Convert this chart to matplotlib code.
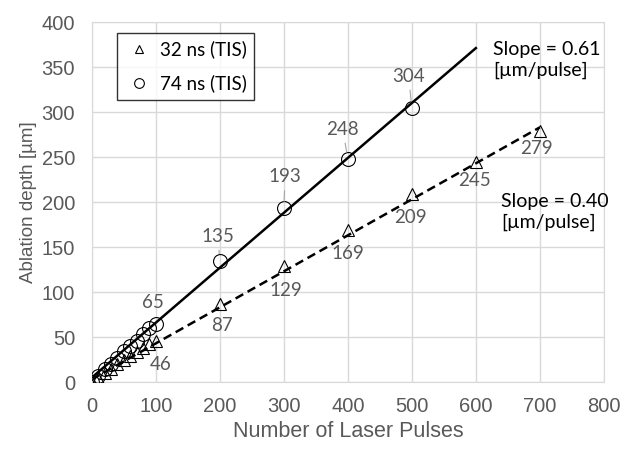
import numpy as np
import matplotlib
matplotlib.use("Agg")
import matplotlib.pyplot as plt

# %% Datos
pulsos_cortos = [0, 10, 20, 30, 40, 50, 60, 70, 80, 90, 100, 200, 300, 400, 500, 600, 700]
prof_32ns = [0, 5, 10, 15, 20, 24, 29, 33, 38, 42, 46, 87, 129, 169, 209, 245, 279]

pulsos_largos = [0, 10, 20, 30, 40, 50, 60, 70, 80, 90, 100, 200, 300, 400, 500]
prof_74ns = [0, 7, 14, 20, 27, 34, 40, 46, 53, 60, 65, 135, 193, 248, 304]

# valores etiquetados: (x, y, etiqueta, posicion del texto, linea guia)
etiquetas_32 = [(100, 46, "46", (108, 19), False), (200, 87, "87", (203, 63), False),
                (300, 129, "129", (303, 102), False), (400, 169, "169", (400, 143), False),
                (500, 209, "209", (497, 183), False), (600, 245, "245", (598, 224), False),
                (700, 279, "279", (695, 260), False)]
etiquetas_74 = [(100, 65, "65", (95, 88), False), (200, 135, "135", (197, 162), True),
                (300, 193, "193", (302, 228), True), (400, 248, "248", (392, 281), True),
                (500, 304, "304", (495, 340), True)]

pendiente_32, intercepto_32, xmax_32 = 0.40, 3, 700
pendiente_74, intercepto_74, xmax_74 = 0.61, 5, 600

gris = "#595959"
fuente_num = "Lato"

# %% Figura
fig = plt.figure(figsize=(6.33, 4.49), dpi=100)
ax = fig.add_axes([0.145, 0.149, 0.809, 0.802])

ax.grid(True, color="#d9d9d9", linewidth=1)
ax.set_axisbelow(True)

# rectas de ajuste
x74 = np.array([0, xmax_74])
ax.plot(x74, pendiente_74 * x74 + intercepto_74, color="black", lw=1.8, zorder=2)
x32 = np.array([0, xmax_32])
ax.plot(x32, pendiente_32 * x32 + intercepto_32, color="black", lw=1.8,
        linestyle=(0, (3.5, 2)), zorder=2)

# puntos
ax.plot(pulsos_cortos, prof_32ns, linestyle="none", marker="^", ms=8.5,
        mfc="none", mec="black", mew=0.8, zorder=3, label="32 ns (TIS)")
ax.plot(pulsos_largos, prof_74ns, linestyle="none", marker="o", ms=10,
        mfc="none", mec="black", mew=0.8, zorder=3, label="74 ns (TIS)")

for x, y, txt, pos, guia in etiquetas_32 + etiquetas_74:
    flecha = None
    if guia:
        flecha = dict(arrowstyle="-", color="#a6a6a6", lw=0.8, shrinkA=2, shrinkB=5)
    ax.annotate(txt, xy=(x, y), xytext=pos, ha="center", va="center",
                fontsize=13.5, color=gris, family=fuente_num, arrowprops=flecha)

ax.text(627, 358, "Slope = 0.61\n[µm/pulse]", fontsize=14, family=fuente_num,
        ha="left", va="center", linespacing=1.3)
ax.text(640, 189, "Slope = 0.40\n[µm/pulse]", fontsize=14, family=fuente_num,
        ha="left", va="center", linespacing=1.3)

ax.set_xlim(0, 800)
ax.set_ylim(0, 400)
ax.set_xticks(range(0, 801, 100))
ax.set_yticks(range(0, 401, 50))
ax.tick_params(length=0, labelsize=14.5, labelcolor=gris)
ax.tick_params(axis="x", pad=11)
ax.tick_params(axis="y", pad=12)
for lbl in ax.get_xticklabels() + ax.get_yticklabels():
    lbl.set_family("Liberation Sans")
for s in ax.spines.values():
    s.set_color("#d9d9d9")

ax.set_xlabel("Number of Laser Pulses", fontsize=15.5, color=gris,
              family="Liberation Sans", labelpad=3)
ax.set_ylabel("Ablation depth [µm]", fontsize=13.5, color=gris,
              family="Liberation Sans", labelpad=3)

leg = ax.legend(loc="upper left", bbox_to_anchor=(0.049, 0.969), borderaxespad=0,
                frameon=True, fancybox=False, edgecolor="black", handlelength=1.6,
                handletextpad=0.3, borderpad=0.4, labelspacing=0.85,
                prop={"family": fuente_num, "size": 13.5}, markerscale=0.7)
leg.get_frame().set_linewidth(1.0)

fig.savefig("out.png", dpi=100)
